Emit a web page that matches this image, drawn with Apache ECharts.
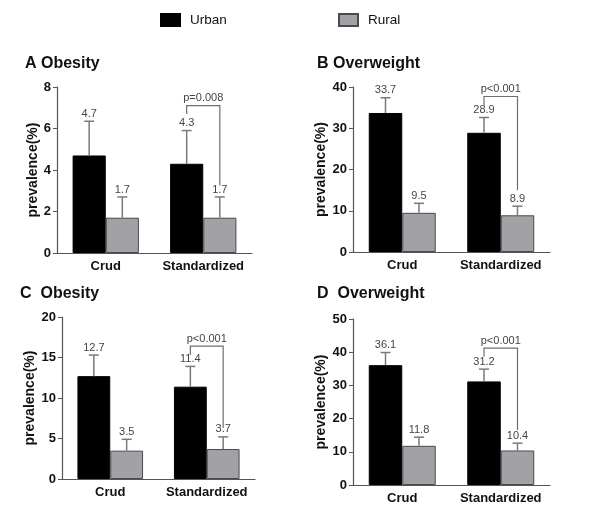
<!DOCTYPE html>
<html lang="en">
<head>
<meta charset="UTF-8">
<title>Prevalence</title>
<script src="https://cdn.jsdelivr.net/npm/echarts@6/dist/echarts.min.js"></script>
<style>
  html, body { margin: 0; padding: 0; background: #fff; }
  #main { width: 600px; height: 528px; }
</style>
</head>
<body>
<div id="main"></div>
<script>
var categories = ['Crud', 'Standardized'];

// bar heights
var urbanA = [4.7, 4.3],   ruralA = [1.7, 1.7];
var urbanB = [33.7, 28.9], ruralB = [9.5, 8.9];
var urbanC = [12.7, 11.4], ruralC = [3.5, 3.7];
var urbanD = [36.1, 31.2], ruralD = [11.8, 10.4];

// top of the error whiskers
var urbanErrA = [6.35, 5.9],  ruralErrA = [2.7, 2.7];
var urbanErrB = [37.4, 32.6], ruralErrB = [11.8, 11.1];
var urbanErrC = [15.3, 13.9], ruralErrC = [4.9, 5.2];
var urbanErrD = [39.9, 34.9], ruralErrD = [14.4, 12.6];

// significance brackets (on Standardized)
var pLabels = ['p=0.008', 'p<0.001', 'p<0.001', 'p<0.001'];
var bracketTop = [7.1, 37.7, 16.4, 41.2];
var bracketLeft = [6.7, 35.6, 15.3, 38.7];
var bracketRight = [3.25, 15.0, 6.3, 16.6];

var titles = ['A Obesity', 'B Overweight', 'C  Obesity', 'D  Overweight'];
var yMax = [8, 40, 20, 50];
var yStep = [2, 10, 5, 10];

var urban = [urbanA, urbanB, urbanC, urbanD];
var rural = [ruralA, ruralB, ruralC, ruralD];
var urbanErr = [urbanErrA, urbanErrB, urbanErrC, urbanErrD];
var ruralErr = [ruralErrA, ruralErrB, ruralErrC, ruralErrD];

var FONT = 'Liberation Sans, Arial, sans-serif';
var grids = [
  { left: 57,  top: 87,  width: 195, height: 166 },
  { left: 353, top: 87,  width: 197, height: 165 },
  { left: 62,  top: 317, width: 193, height: 162 },
  { left: 353, top: 319, width: 197, height: 166 }
];
var titlePos = [
  { left: 20,  top: 51 },
  { left: 312, top: 51 },
  { left: 15,  top: 281 },
  { left: 312, top: 281 }
];

var chart = echarts.init(document.getElementById('main'));

// whisker + cap + value label over each bar
function errorItem(params, api) {
  var cat = api.value(0);
  var side = api.value(3);
  var base = api.coord([cat, api.value(1)]);
  var top = api.coord([cat, api.value(2)]);
  var band = api.size([1, 0])[0];
  var x = base[0] + (side === 0 ? -1 : 1) * band * 0.17;
  var st = { stroke: '#7a7a7a', lineWidth: 1.5 };
  return {
    type: 'group',
    children: [
      { type: 'line', shape: { x1: x, y1: base[1], x2: x, y2: top[1] }, style: st },
      { type: 'line', shape: { x1: x - 5, y1: top[1], x2: x + 5, y2: top[1] }, style: st },
      { type: 'text', x: x, y: top[1] - 2,
        style: { text: String(api.value(1)), fill: '#444', font: '11px ' + FONT,
                 textAlign: 'center', textVerticalAlign: 'bottom' } }
    ]
  };
}

var title = [], xAxis = [], yAxis = [], series = [];
for (var i = 0; i < 4; i++) {
  title.push({
    text: titles[i], left: titlePos[i].left, top: titlePos[i].top,
    textStyle: { fontFamily: FONT, fontSize: 16, fontWeight: 'bold', color: '#111' }
  });
  xAxis.push({
    type: 'category', gridIndex: i, data: categories,
    axisLine: { lineStyle: { color: '#555', width: 1.2 } },
    axisTick: { show: false },
    axisLabel: { interval: 0, color: '#111', fontFamily: FONT, fontSize: 13, fontWeight: 'bold', margin: 7 }
  });
  yAxis.push({
    type: 'value', gridIndex: i, min: 0, max: yMax[i], interval: yStep[i],
    name: 'prevalence(%)', nameLocation: 'middle', nameGap: 17,
    nameTextStyle: { color: '#111', fontFamily: FONT, fontSize: 14, fontWeight: 'bold' },
    axisLine: { show: true, lineStyle: { color: '#555', width: 1.2 } },
    axisTick: { show: true, length: 4, lineStyle: { color: '#555' } },
    splitLine: { show: false },
    axisLabel: { color: '#111', fontFamily: FONT, fontSize: 13, fontWeight: 'bold', margin: 6 }
  });
  series.push({
    name: 'Urban', type: 'bar', xAxisIndex: i, yAxisIndex: i, data: urban[i],
    barGap: '0%', barCategoryGap: '32%',
    itemStyle: { color: '#000', borderColor: '#000', borderWidth: 1 }
  });
  series.push({
    name: 'Rural', type: 'bar', xAxisIndex: i, yAxisIndex: i, data: rural[i],
    barGap: '0%', barCategoryGap: '32%',
    itemStyle: { color: '#a2a2a6', borderColor: '#4a4a4a', borderWidth: 1 }
  });
  var errData = [];
  for (var k = 0; k < categories.length; k++) {
    errData.push([k, urban[i][k], urbanErr[i][k], 0]);
    errData.push([k, rural[i][k], ruralErr[i][k], 1]);
  }
  series.push({
    type: 'custom', xAxisIndex: i, yAxisIndex: i, z: 5, silent: true,
    encode: { x: 0, y: 2 }, data: errData, renderItem: errorItem
  });
  (function (idx) {
    series.push({
      type: 'custom', xAxisIndex: idx, yAxisIndex: idx, z: 6, silent: true,
      encode: { x: 0, y: 2 },
      data: [[1, bracketLeft[idx], bracketTop[idx], bracketRight[idx]]],
      renderItem: function (params, api) {
        var cat = api.value(0);
        var band = api.size([1, 0])[0];
        var c = api.coord([cat, api.value(2)]);
        var yl = api.coord([cat, api.value(1)])[1];
        var yr = api.coord([cat, api.value(3)])[1];
        var xl = c[0] - band * 0.17, xr = c[0] + band * 0.17;
        return {
          type: 'group',
          children: [
            { type: 'polyline',
              shape: { points: [[xl, yl], [xl, c[1]], [xr, c[1]], [xr, yr]] },
              style: { stroke: '#6e6e6e', lineWidth: 1.2, fill: null } },
            { type: 'text', x: (xl + xr) / 2, y: c[1] - 2,
              style: { text: pLabels[idx], fill: '#444', font: '11px ' + FONT,
                       textAlign: 'center', textVerticalAlign: 'bottom' } }
          ]
        };
      }
    });
  })(i);
}

chart.setOption({
  animation: false,
  backgroundColor: '#fff',
  title: title,
  legend: [
    { data: ['Urban'], left: 155, top: 8, icon: 'rect', itemWidth: 19, itemHeight: 12, selectedMode: false,
      textStyle: { fontFamily: FONT, fontSize: 13.5, color: '#111', padding: [0, 0, 0, 5] } },
    { data: ['Rural'], left: 333, top: 8, icon: 'rect', itemWidth: 19, itemHeight: 12, selectedMode: false,
      textStyle: { fontFamily: FONT, fontSize: 13.5, color: '#111', padding: [0, 0, 0, 5] } }
  ],
  grid: grids,
  xAxis: xAxis,
  yAxis: yAxis,
  series: series
});
</script>
</body>
</html>
